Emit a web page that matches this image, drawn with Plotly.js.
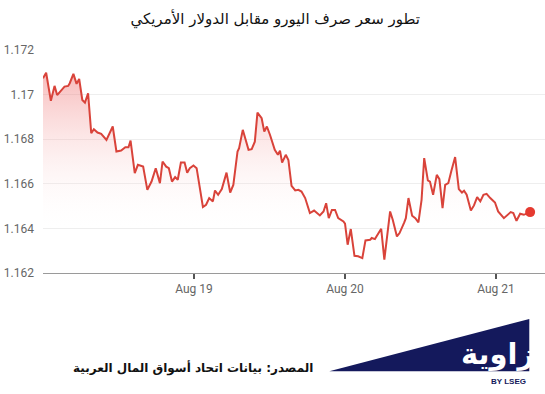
<!DOCTYPE html>
<html>
<head>
<meta charset="utf-8">
<script src="https://cdn.plot.ly/plotly-3.0.1.min.js"></script>
<style>
  html, body { margin: 0; padding: 0; background: #ffffff; }
  #chart { width: 545px; height: 394px; }
</style>
</head>
<body>
<div id="chart"></div>
<script>
const chartTitle = 'تطور سعر صرف اليورو مقابل الدولار الأمريكي';
const sourceText = 'المصدر: بيانات اتحاد أسواق المال العربية';
const logoText = 'زاوية';
const logoSub = 'BY LSEG';

const times = [
  '2025-08-18 00:00','2025-08-18 00:30','2025-08-18 01:15','2025-08-18 01:50','2025-08-18 02:15',
  '2025-08-18 02:55','2025-08-18 03:25','2025-08-18 04:00','2025-08-18 04:15','2025-08-18 04:50',
  '2025-08-18 05:20','2025-08-18 05:45','2025-08-18 06:15','2025-08-18 06:40','2025-08-18 07:10',
  '2025-08-18 07:40','2025-08-18 08:05','2025-08-18 08:40','2025-08-18 09:15','2025-08-18 10:05',
  '2025-08-18 11:05','2025-08-18 11:40','2025-08-18 12:25','2025-08-18 13:05','2025-08-18 13:35',
  '2025-08-18 13:55','2025-08-18 14:35','2025-08-18 15:05','2025-08-18 15:55','2025-08-18 16:35',
  '2025-08-18 17:15','2025-08-18 17:55','2025-08-18 18:35','2025-08-18 19:00','2025-08-18 19:35',
  '2025-08-18 20:00','2025-08-18 20:30','2025-08-18 21:00','2025-08-18 21:25','2025-08-18 21:55',
  '2025-08-18 22:30','2025-08-18 22:55','2025-08-18 23:20','2025-08-18 23:55',
  '2025-08-19 00:25','2025-08-19 01:25','2025-08-19 01:55','2025-08-19 02:25','2025-08-19 03:00',
  '2025-08-19 03:20','2025-08-19 03:50','2025-08-19 04:25','2025-08-19 05:10','2025-08-19 05:45',
  '2025-08-19 06:15','2025-08-19 06:55','2025-08-19 07:10','2025-08-19 07:45','2025-08-19 08:40',
  '2025-08-19 09:10','2025-08-19 09:40','2025-08-19 10:05','2025-08-19 10:45','2025-08-19 11:10',
  '2025-08-19 11:35','2025-08-19 12:05','2025-08-19 12:50','2025-08-19 13:20','2025-08-19 13:40',
  '2025-08-19 14:00','2025-08-19 14:35','2025-08-19 15:00','2025-08-19 15:30','2025-08-19 16:05',
  '2025-08-19 16:35','2025-08-19 17:05','2025-08-19 17:40','2025-08-19 18:25','2025-08-19 19:05',
  '2025-08-19 20:00','2025-08-19 20:35','2025-08-19 21:00','2025-08-19 21:25','2025-08-19 21:55',
  '2025-08-19 22:25','2025-08-19 22:55','2025-08-19 23:45',
  '2025-08-20 00:00','2025-08-20 00:25','2025-08-20 00:55','2025-08-20 01:30','2025-08-20 02:05',
  '2025-08-20 02:45','2025-08-20 03:15','2025-08-20 04:00','2025-08-20 04:15','2025-08-20 04:45',
  '2025-08-20 05:45','2025-08-20 06:15','2025-08-20 07:10','2025-08-20 07:35','2025-08-20 08:15',
  '2025-08-20 08:40','2025-08-20 09:25','2025-08-20 09:40','2025-08-20 10:05','2025-08-20 10:40',
  '2025-08-20 11:10','2025-08-20 11:40','2025-08-20 12:10','2025-08-20 12:35','2025-08-20 13:10',
  '2025-08-20 13:30','2025-08-20 14:00','2025-08-20 14:35','2025-08-20 15:00','2025-08-20 15:30',
  '2025-08-20 15:55','2025-08-20 16:25','2025-08-20 16:55','2025-08-20 17:30','2025-08-20 18:05',
  '2025-08-20 18:35','2025-08-20 18:55','2025-08-20 19:20','2025-08-20 20:00','2025-08-20 20:30',
  '2025-08-20 21:00','2025-08-20 21:30','2025-08-20 22:00','2025-08-20 22:30','2025-08-20 23:05',
  '2025-08-20 23:50',
  '2025-08-21 00:20','2025-08-21 01:15','2025-08-21 02:20','2025-08-21 02:45','2025-08-21 03:15',
  '2025-08-21 03:50','2025-08-21 04:25','2025-08-21 05:25'
];

const rates = [
  1.17073,1.17098,1.16972,1.17039,1.16998,
  1.17018,1.17036,1.17039,1.17051,1.17093,
  1.17048,1.17070,1.16976,1.16964,1.17006,
  1.16827,1.16845,1.16830,1.16824,1.16797,
  1.16857,1.16745,1.16749,1.16764,1.16764,
  1.16794,1.16648,1.16685,1.16677,1.16573,
  1.16610,1.16670,1.16603,1.16700,1.16677,
  1.16670,1.16610,1.16630,1.16618,1.16695,
  1.16695,1.16650,1.16670,1.16682,
  1.16670,1.16496,1.16506,1.16536,1.16521,
  1.16570,1.16551,1.16576,1.16650,1.16561,
  1.16595,1.16745,1.16760,1.16842,1.16752,
  1.16755,1.16789,1.16919,1.16894,1.16834,
  1.16857,1.16819,1.16752,1.16730,1.16749,
  1.16695,1.16730,1.16707,1.16591,1.16570,
  1.16573,1.16565,1.16536,1.16469,1.16480,
  1.16458,1.16476,1.16513,1.16446,1.16483,
  1.16483,1.16446,1.16431,
  1.16421,1.16327,1.16397,1.16277,1.16275,
  1.16267,1.16346,1.16349,1.16357,1.16352,
  1.16398,1.16260,1.16476,1.16439,1.16364,
  1.16379,1.16427,1.16446,1.16536,1.16457,
  1.16446,1.16427,1.16528,1.16715,1.16615,
  1.16610,1.16551,1.16640,1.16621,1.16491,
  1.16595,1.16603,1.16660,1.16720,1.16576,
  1.16561,1.16569,1.16551,1.16480,1.16503,
  1.16540,1.16521,1.16551,1.16555,1.16536,
  1.16516,
  1.16476,1.16446,1.16473,1.16469,1.16434,
  1.16466,1.16461,1.16473
];

const tickVals = ['2025-08-19 00:00','2025-08-20 00:00','2025-08-21 00:00'];
const tickLabels = ['Aug 19','Aug 20','Aug 21'];
const xRange = ['2025-08-18 00:00','2025-08-21 07:47'];
const yRange = [1.162, 1.172];

const navy = '#14195c';
const lineColor = '#d9433a';

const traces = [
  {
    type: 'scatter', mode: 'lines', x: times, y: rates,
    line: { color: lineColor, width: 2 },
    fill: 'tozeroy',
    fillgradient: {
      type: 'vertical', start: 1.1638, stop: 1.1708,
      colorscale: [[0, 'rgba(255,255,255,0)'], [1, 'rgba(238,110,110,0.45)']]
    },
    hoverinfo: 'skip', showlegend: false
  },
  {
    type: 'scatter', mode: 'markers',
    x: [times[times.length - 1]], y: [rates[rates.length - 1]],
    marker: { color: '#e53a30', size: 10 },
    hoverinfo: 'skip', showlegend: false
  }
];

const layout = {
  width: 545, height: 394,
  margin: { l: 43, r: 0, t: 50, b: 121 },
  paper_bgcolor: '#ffffff', plot_bgcolor: '#ffffff',
  showlegend: false,
  title: {
    text: chartTitle,
    xref: 'container', yref: 'container',
    x: 0.505, y: 0.952, xanchor: 'center', yanchor: 'middle',
    font: { family: 'DejaVu Sans, Noto Sans', size: 15, color: '#111111' }
  },
  xaxis: {
    type: 'date', range: xRange,
    tickvals: tickVals, ticktext: tickLabels,
    ticks: 'outside', ticklen: 5, tickwidth: 2, tickcolor: '#555555',
    showline: true, linecolor: '#9a9a9a', linewidth: 1,
    showgrid: false, zeroline: false,
    tickfont: { family: 'Roboto, sans-serif', size: 12, color: '#666666' },
    fixedrange: true
  },
  yaxis: {
    range: yRange, tick0: 1.162, dtick: 0.002,
    showgrid: true, gridcolor: '#eeeeee', gridwidth: 1,
    zeroline: false, showline: false, ticks: '',
    ticklabelstandoff: 8,
    tickfont: { family: 'Roboto, sans-serif', size: 12, color: '#666666' },
    fixedrange: true
  },
  shapes: [
    {
      type: 'path', xref: 'paper', yref: 'paper',
      path: 'M 0.5703 -0.4407 L 0.9687 -0.2060 L 0.9687 -0.4407 Z',
      fillcolor: navy, line: { width: 0 }, layer: 'above'
    }
  ],
  annotations: [
    {
      text: sourceText, xref: 'paper', yref: 'paper',
      x: 0.5418, y: -0.424, xanchor: 'right', yanchor: 'middle',
      showarrow: false,
      font: { family: 'DejaVu Sans, Noto Sans', size: 12, color: '#111111', weight: 'bold' }
    },
    {
      text: logoText, xref: 'paper', yref: 'paper',
      x: 0.982, y: -0.362, xanchor: 'right', yanchor: 'middle',
      showarrow: false,
      font: { family: 'DejaVu Sans, Noto Sans', size: 29, color: '#ffffff', weight: 'bold' }
    },
    {
      text: logoSub, xref: 'paper', yref: 'paper',
      x: 0.966, y: -0.487, xanchor: 'right', yanchor: 'middle',
      showarrow: false,
      font: { family: 'Liberation Sans, Arial, sans-serif', size: 8, color: navy, weight: 'bold' }
    }
  ]
};

Plotly.newPlot('chart', traces, layout, { displayModeBar: false, staticPlot: true });
</script>
</body>
</html>
